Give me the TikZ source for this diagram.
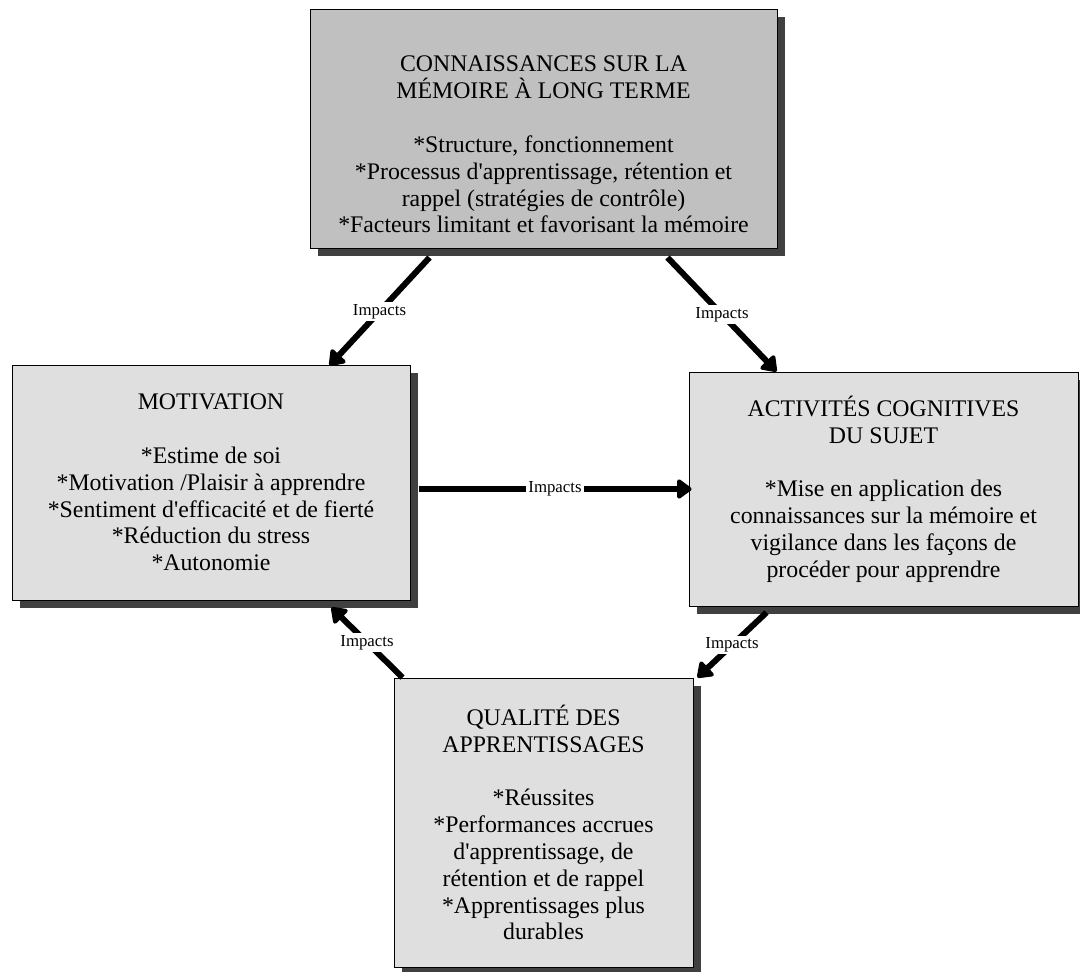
\documentclass[tikz,border=0pt]{standalone}
\usepackage{fontspec}
\setmainfont{Liberation Serif}
\usetikzlibrary{arrows.meta,shadows,calc}
\definecolor{boxgray}{RGB}{223,223,223}
\definecolor{topgray}{RGB}{192,192,192}
\definecolor{shadowgray}{RGB}{64,64,64}

\begin{document}
\begin{tikzpicture}[x=0.5pt,y=-0.5pt,
    box/.style={draw=black, line width=0.5pt, fill=boxgray, align=center, inner sep=0pt,
        font=\fontsize{11.9}{13.4}\selectfont,
        drop shadow={shadow xshift=4pt, shadow yshift=-4pt, fill=shadowgray, opacity=1}},
    impact/.style={-{Triangle[length=8pt,width=11pt,round]}, line width=3pt},
    lbl/.style={fill=white, inner sep=1pt, font=\fontsize{8.4}{10}\selectfont}]
    \useasboundingbox (0,0) rectangle (1080,971);
    % boxes
    \node[box, fill=topgray, minimum width=233.5pt, minimum height=119.5pt] (memoire) at (543.5,128.5)
        {\mbox{}\\[10.5pt]CONNAISSANCES SUR LA\\ MÉMOIRE À LONG TERME\\[13.6pt]
         *Structure, fonctionnement\\ *Processus d\textquotesingle apprentissage, rétention et\\
         rappel (stratégies de contrôle)\\ *Facteurs limitant et favorisant la mémoire};
    \node[box, minimum width=199pt, minimum height=117.5pt] (motivation) at (211,482.5)
        {MOTIVATION\\[13.4pt] *Estime de soi\\ *Motivation /Plaisir à apprendre\\
         *Sentiment d\textquotesingle efficacité et de fierté\\ *Réduction du stress\\ *Autonomie};
    \node[box, minimum width=194.5pt, minimum height=117pt] (activites) at (883.5,489)
        {ACTIVITÉS COGNITIVES\\ DU SUJET\\[13.4pt] *Mise en application des\\
         connaissances sur la mémoire et\\ vigilance dans les façons de\\ procéder pour apprendre};
    \node[box, minimum width=149.5pt, minimum height=144.5pt] (qualite) at (543.5,822.5)
        {QUALITÉ DES\\ APPRENTISSAGES\\[13.4pt] *Réussites\\ *Performances accrues\\
         d\textquotesingle apprentissage, de\\ rétention et de rappel\\ *Apprentissages plus\\ durables};
    % arrows
    \draw[impact] ($(memoire.south west)+(120,9)$) -- node[lbl] {Impacts} ($(motivation.north west)+(318,1)$);
    \draw[impact] ($(memoire.south east)+(-110,9)$) -- node[lbl] {Impacts} ($(activites.north west)+(88,0)$);
    \draw[impact] ($(motivation.east)+(8,6.5)$) -- node[lbl] {Impacts} ($(activites.west)+(3,0)$);
    \draw[impact] ($(activites.south west)+(78,6)$) -- node[lbl] {Impacts} ($(qualite.north east)+(4,0)$);
    \draw[impact] ($(qualite.north west)+(9,0)$) -- node[lbl] {Impacts} ($(motivation.south west)+(320,7)$);
\end{tikzpicture}
\end{document}
